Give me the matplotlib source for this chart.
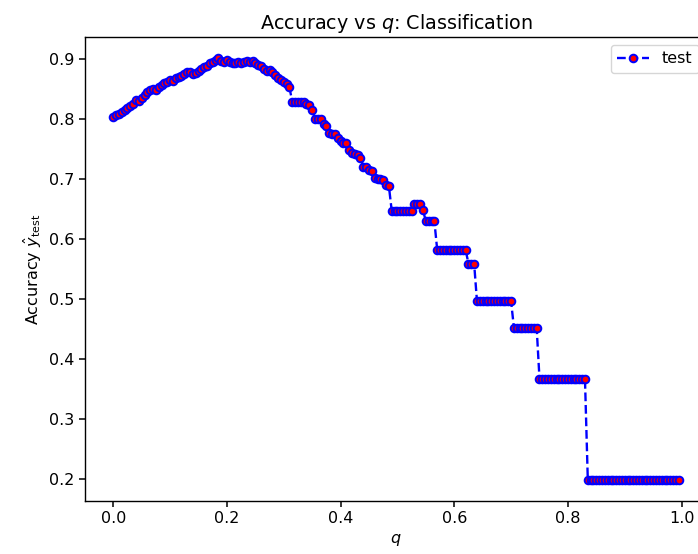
import numpy as np
import matplotlib
matplotlib.use("Agg")
import matplotlib.pyplot as plt

# q grid (step 0.005, 200 samples)
q = np.arange(200) * 0.005

# accuracy
acc_rise = [0.804, 0.807, 0.809, 0.812, 0.816, 0.818, 0.822, 0.826, 0.832, 0.831,
            0.836, 0.840, 0.845, 0.848, 0.851, 0.849, 0.853, 0.857, 0.860, 0.862,
            0.866, 0.864, 0.868, 0.870, 0.872, 0.876, 0.879, 0.878, 0.875, 0.877,
            0.881, 0.884, 0.887, 0.889, 0.893, 0.896, 0.899, 0.902, 0.897, 0.895,
            0.899, 0.896, 0.894, 0.893, 0.896, 0.894, 0.895, 0.897, 0.896, 0.897,
            0.893, 0.890, 0.888, 0.884, 0.880, 0.882, 0.878, 0.873, 0.868, 0.865,
            0.862, 0.858, 0.853]
acc_flat1 = [0.829] * 5
acc_fall = [0.826, 0.824, 0.815, 0.801, 0.800, 0.800, 0.792, 0.789, 0.777, 0.776,
            0.776, 0.768, 0.763, 0.761, 0.760, 0.748, 0.744, 0.742, 0.741, 0.736,
            0.721, 0.720, 0.716, 0.714, 0.702, 0.701, 0.700, 0.699, 0.690, 0.688]
acc_steps = ([0.647] * 8 + [0.658] * 3 + [0.648] + [0.630] * 4 + [0.582] * 11
             + [0.559] * 3 + [0.496] * 13 + [0.452] * 9 + [0.367] * 17
             + [0.198] * 33)
acc = np.array(acc_rise + acc_flat1 + acc_fall + acc_steps)

plt.rcParams["font.size"] = 11.5

fig = plt.figure(figsize=(6.98, 5.54), dpi=100)
ax = fig.add_axes([85 / 698, 53 / 554, (707 - 85) / 698, (501 - 37) / 554])

ax.plot(q, acc, "o--", color="b", markerfacecolor="r", markeredgecolor="b",
        markersize=5.5, markeredgewidth=1.4, linewidth=1.7, label="test")

ax.set_title("Accuracy vs $q$: Classification", fontsize=13.8)
ax.set_xlabel("$q$")
ax.set_ylabel(r"Accuracy $\hat{y}_{\rm test}$")
ax.tick_params(width=1.1, length=4)
for s in ax.spines.values():
    s.set_linewidth(1.0)
ax.legend(loc="upper right")

fig.savefig("out.png", dpi=100)
